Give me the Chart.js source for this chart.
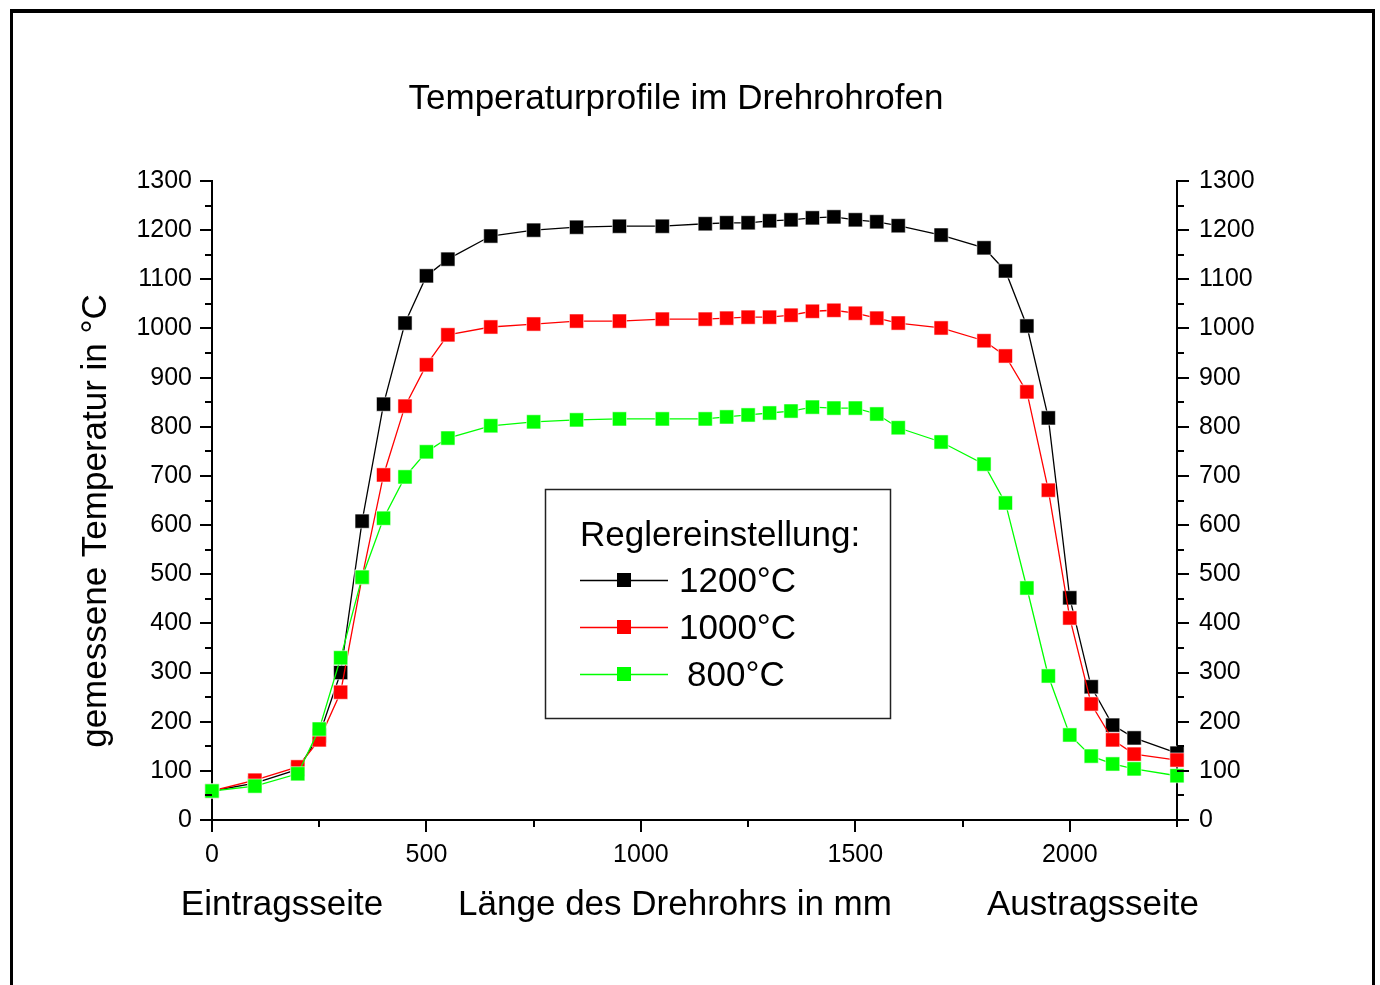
<!DOCTYPE html>
<html>
<head>
<meta charset="utf-8">
<title>Temperaturprofile im Drehrohrofen</title>
<script src="https://cdn.jsdelivr.net/npm/chart.js@4.4.1/dist/chart.umd.min.js"></script>
<style>
  html, body { margin: 0; padding: 0; background: #fff; }
  #wrap { position: relative; width: 1380px; height: 985px; overflow: hidden; }
  #frame {
    position: absolute; left: 10px; top: 9px; width: 1359px; height: 990px;
    border-top: 4px solid #000; border-left: 3px solid #000; border-right: 3px solid #000;
  }
  canvas { position: absolute; left: 0; top: 0; }
</style>
</head>
<body>
<div id="wrap">
  <canvas id="chart" width="1380" height="985"></canvas>
  <div id="frame"></div>
</div>
<script>
const positions = [0, 100, 200, 250, 300, 350, 400, 450, 500, 550, 650, 750, 850, 950, 1050,
  1150, 1200, 1250, 1300, 1350, 1400, 1450, 1500, 1550, 1600, 1700, 1800, 1850, 1900, 1950,
  2000, 2050, 2100, 2150, 2250];

const temp1200 = [59, 75, 103, 172, 300, 608, 846, 1011, 1107, 1141, 1188, 1200, 1206, 1208, 1208,
  1213, 1215, 1215, 1219, 1221, 1225, 1227, 1221, 1217, 1209, 1190, 1164, 1117, 1005, 818,
  452, 271, 193, 167, 136];

const temp1000 = [59, 81, 108, 163, 260, 494, 702, 842, 926, 987, 1003, 1009, 1015, 1015, 1019,
  1019, 1021, 1023, 1023, 1027, 1035, 1037, 1031, 1021, 1011, 1001, 975, 944, 871, 671,
  411, 236, 163, 134, 122];

const temp800 = [59, 69, 94, 185, 330, 494, 614, 698, 749, 777, 802, 810, 814, 816, 816,
  816, 820, 824, 828, 832, 840, 838, 838, 826, 798, 769, 724, 645, 472, 293,
  173, 130, 114, 104, 90];

const seriesNames = ['1200°C', '1000°C', '800°C'];
const seriesColors = ['#000000', '#ff0000', '#00ff00'];
const xTicks = [0, 500, 1000, 1500, 2000];
const yTicks = [0, 100, 200, 300, 400, 500, 600, 700, 800, 900, 1000, 1100, 1200, 1300];

const FONT = "'Liberation Sans', Arial, Helvetica, sans-serif";

const toPoints = (values) => values.map((v, i) => ({ x: positions[i], y: v }));

const makeDataset = (label, values, color, order) => ({
  label: label,
  data: toPoints(values),
  borderColor: color,
  backgroundColor: color,
  borderWidth: 1.3,
  pointStyle: 'rect',
  pointRadius: 10,
  pointHoverRadius: 10,
  pointBorderWidth: 1,
  pointBorderColor: 'rgba(255,255,255,0.55)',
  pointBackgroundColor: color,
  tension: 0,
  clip: false,
  order: order,
});

// ticks drawn by hand so the minor ones can be shorter
const tickMarks = {
  id: 'tickMarks',
  afterDraw(chart) {
    const ctx = chart.ctx;
    const { left, right, bottom } = chart.chartArea;
    const ys = chart.scales.y;
    const xs = chart.scales.x;
    ctx.save();
    ctx.strokeStyle = '#000';
    ctx.lineWidth = 2;
    ctx.beginPath();
    for (let v = ys.min; v <= ys.max; v += 50) {
      const py = Math.round(ys.getPixelForValue(v));
      const len = v % 100 === 0 ? 12 : 7;
      ctx.moveTo(left - len, py);
      ctx.lineTo(left, py);
      ctx.moveTo(right, py);
      ctx.lineTo(right + len, py);
    }
    for (let v = xs.min; v <= xs.max; v += 250) {
      const px = Math.round(xs.getPixelForValue(v));
      const len = v % 500 === 0 ? 12 : 7;
      ctx.moveTo(px, bottom);
      ctx.lineTo(px, bottom + len);
    }
    ctx.stroke();
    ctx.restore();
  },
};

// titles, axis captions and the boxed legend
const captions = {
  id: 'captions',
  afterDraw(chart) {
    const ctx = chart.ctx;
    ctx.save();
    ctx.fillStyle = '#000';
    ctx.textBaseline = 'middle';
    ctx.textAlign = 'center';

    ctx.font = '35px ' + FONT;
    ctx.fillText('Temperaturprofile im Drehrohrofen', 676, 99);

    ctx.save();
    ctx.translate(96, 521);
    ctx.rotate(-Math.PI / 2);
    ctx.fillText('gemessene Temperatur in °C', 0, 0);
    ctx.restore();

    ctx.fillText('Eintragsseite', 282, 905);
    ctx.fillText('Länge des Drehrohrs in mm', 675, 905);
    ctx.fillText('Austragsseite', 1093, 905);

    // legend box
    ctx.strokeStyle = '#222';
    ctx.lineWidth = 1.5;
    ctx.strokeRect(545.5, 489.5, 345, 229);
    ctx.textAlign = 'left';
    ctx.fillText('Reglereinstellung:', 580, 536);
    seriesNames.forEach((name, i) => {
      const y = 580 + i * 47;
      ctx.strokeStyle = seriesColors[i];
      ctx.lineWidth = 1.3;
      ctx.beginPath();
      ctx.moveTo(580, y + 0.5);
      ctx.lineTo(668, y + 0.5);
      ctx.stroke();
      ctx.fillStyle = seriesColors[i];
      ctx.fillRect(617, y - 7, 14, 14);
      ctx.fillStyle = '#000';
      ctx.fillText(name, i === 2 ? 687 : 679, y + 2);
    });
    ctx.restore();
  },
};

const fixedTicks = (values) => (scale) => {
  scale.ticks = values.map((v) => ({ value: v }));
};

const plainLabel = (value) => String(value);

new Chart(document.getElementById('chart'), {
  type: 'line',
  data: {
    datasets: [
      makeDataset(seriesNames[0], temp1200, seriesColors[0], 3),
      makeDataset(seriesNames[1], temp1000, seriesColors[1], 2),
      makeDataset(seriesNames[2], temp800, seriesColors[2], 1),
    ],
  },
  options: {
    responsive: false,
    animation: false,
    events: [],
    layout: { padding: { top: 181, left: 0, right: 0, bottom: 0 } },
    plugins: {
      legend: { display: false },
      title: { display: false },
      tooltip: { enabled: false },
    },
    scales: {
      x: {
        type: 'linear',
        min: 0,
        max: 2250,
        afterBuildTicks: fixedTicks(xTicks),
        afterFit(scale) { scale.height = 165; },
        grid: { display: false, drawTicks: false },
        border: { display: true, color: '#000', width: 2 },
        ticks: { padding: 20, color: '#000', font: { family: FONT, size: 25 }, callback: plainLabel },
      },
      y: {
        type: 'linear',
        position: 'left',
        min: 0,
        max: 1300,
        afterBuildTicks: fixedTicks(yTicks),
        afterFit(scale) { scale.width = 212; },
        grid: { display: false, drawTicks: false },
        border: { display: true, color: '#000', width: 2 },
        ticks: { padding: 20, color: '#000', font: { family: FONT, size: 25 }, callback: plainLabel },
      },
      y2: {
        type: 'linear',
        position: 'right',
        min: 0,
        max: 1300,
        afterBuildTicks: fixedTicks(yTicks),
        afterFit(scale) { scale.width = 203; },
        grid: { display: false, drawTicks: false },
        border: { display: true, color: '#000', width: 2 },
        ticks: { padding: 22, color: '#000', font: { family: FONT, size: 25 }, callback: plainLabel },
      },
    },
  },
  plugins: [tickMarks, captions],
});
</script>
</body>
</html>
